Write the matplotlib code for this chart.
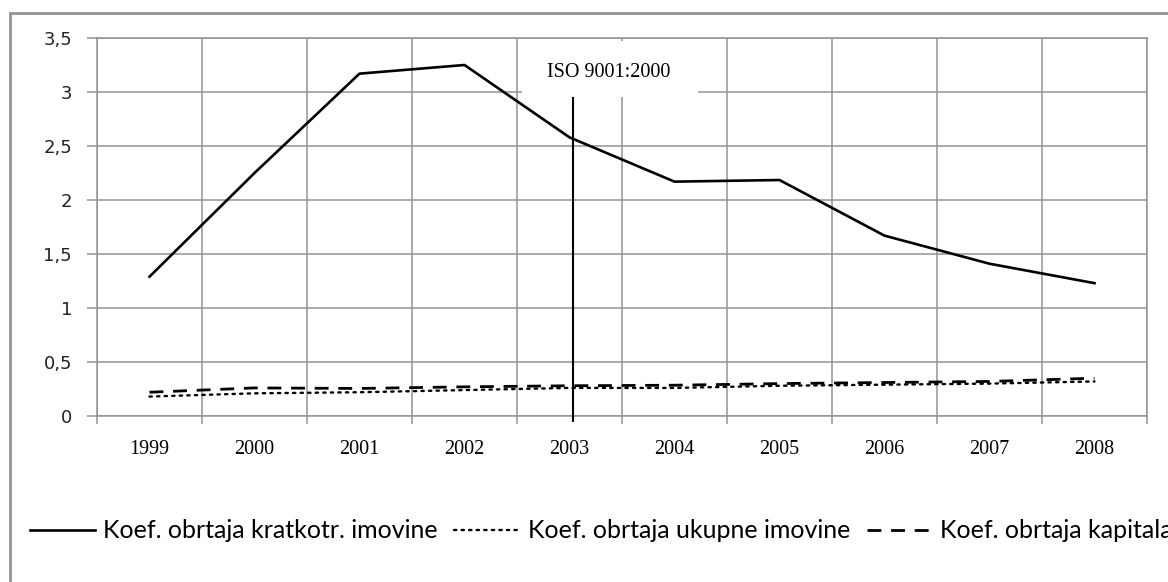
import matplotlib
matplotlib.use("Agg")
import matplotlib.pyplot as plt
from matplotlib.patches import Rectangle

# podaci
godine = ["1999", "2000", "2001", "2002", "2003", "2004", "2005", "2006", "2007", "2008"]
kratkotr_imovina = [1.29, 2.25, 3.17, 3.25, 2.58, 2.17, 2.185, 1.67, 1.41, 1.23]
ukupna_imovina = [0.18, 0.21, 0.22, 0.24, 0.26, 0.26, 0.28, 0.29, 0.30, 0.32]
kapital = [0.22, 0.26, 0.255, 0.27, 0.28, 0.285, 0.30, 0.31, 0.32, 0.35]
y_ticks = [0, 0.5, 1, 1.5, 2, 2.5, 3, 3.5]
y_labels = ["0", "0,5", "1", "1,5", "2", "2,5", "3", "3,5"]
iso_tekst = "ISO 9001:2000"
iso_godina = "2003"

siva = "#939393"
W, H = 1168, 582

fig = plt.figure(figsize=(W / 100, H / 100), dpi=100)
ax = fig.add_axes([97 / W, 1 - 416 / H, (1147 - 97) / W, (416 - 38) / H])

x = list(range(len(godine)))
l1, = ax.plot(x, kratkotr_imovina, color="black", lw=1.9, solid_joinstyle="round",
              label="Koef. obrtaja kratkotr. imovine", zorder=4)
l2, = ax.plot(x, ukupna_imovina, color="black", lw=1.7, linestyle=(0, (1, 2.2)),
              dash_capstyle="round", label="Koef. obrtaja ukupne imovine", zorder=4)
l3, = ax.plot(x, kapital, color="black", lw=2.0, linestyle=(0, (5, 3.5)),
              label="Koef. obrtaja kapitala", zorder=4)

# osi i mreza
ax.set_xlim(-0.5, len(godine) - 0.5)
ax.set_ylim(0, 3.5)
ax.set_xticks(x)
ax.set_xticklabels(godine, family="Liberation Serif", fontsize=14.5)
ax.set_xticks([i - 0.5 for i in range(len(godine) + 1)], minor=True)
ax.tick_params(axis="x", which="major", length=0, pad=17)
ax.tick_params(axis="x", which="minor", length=6, color=siva, width=1.1)
ax.set_yticks(y_ticks)
ax.set_yticklabels(y_labels, family="DejaVu Sans", fontsize=13, color="#222222")
ax.tick_params(axis="y", length=7, color=siva, width=1.1, pad=11)
ax.grid(True, axis="y", color=siva, lw=1.1)
ax.grid(True, axis="x", which="minor", color=siva, lw=1.1)
for s in ax.spines.values():
    s.set_color(siva)
    s.set_linewidth(1.1)
ax.set_axisbelow(True)

# oznaka ISO standarda
iso_x = godine.index(iso_godina) + 0.03
ax.add_patch(Rectangle((3.55, 2.95), 1.67, 0.52, facecolor="white", edgecolor="none", zorder=2))
ax.vlines(iso_x, -0.06, 2.95, color="black", lw=1.5, clip_on=False, zorder=5)
ax.text(4.37, 3.185, iso_tekst, family="Liberation Serif", fontsize=14.5,
        ha="center", va="center", zorder=6)

# okvir
fig.patches.append(Rectangle((9.5 / W, -0.1), 1.2, 1 - 12.5 / H + 0.1, transform=fig.transFigure,
                             fill=False, edgecolor=siva, lw=2))

fig.legend(handles=[l1, l2, l3], loc="center left", bbox_to_anchor=(30 / W, 1 - 531 / H),
           ncol=3, frameon=False, prop={"family": "Lato", "size": 18},
           handlelength=2.6, handletextpad=0.33, columnspacing=0.66,
           borderaxespad=0, borderpad=0)

fig.savefig("out.png", dpi=100)
